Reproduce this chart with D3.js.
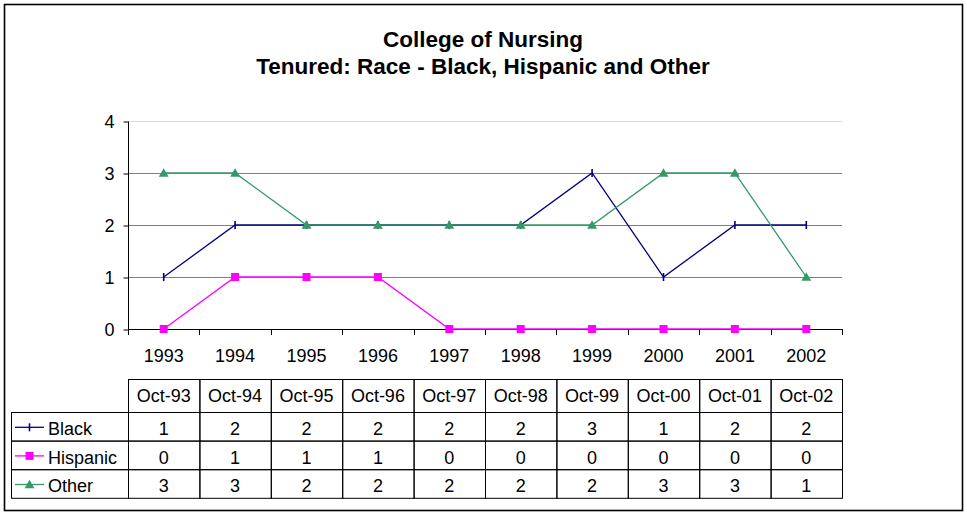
<!DOCTYPE html>
<html>
<head>
<meta charset="utf-8">
<script src="https://cdn.jsdelivr.net/npm/d3@7"></script>
<style>
  body { margin: 0; background: #fff; }
  svg { font-family: "Liberation Sans", Arial, sans-serif; }
</style>
</head>
<body>
<div id="chart"></div>
<script>
const years = ["1993", "1994", "1995", "1996", "1997", "1998", "1999", "2000", "2001", "2002"];
const dates = ["Oct-93", "Oct-94", "Oct-95", "Oct-96", "Oct-97", "Oct-98", "Oct-99", "Oct-00", "Oct-01", "Oct-02"];
const black = [1, 2, 2, 2, 2, 2, 3, 1, 2, 2];
const hispanic = [0, 1, 1, 1, 0, 0, 0, 0, 0, 0];
const other = [3, 3, 2, 2, 2, 2, 2, 3, 3, 1];
const yTicks = [0, 1, 2, 3, 4];

const series = [
  { name: "Black", values: black, color: "#000080", marker: "tick" },
  { name: "Hispanic", values: hispanic, color: "#FF00FF", marker: "square" },
  { name: "Other", values: other, color: "#339966", marker: "triangle" }
];

const width = 967, height = 515;
const plotLeft = 128, plotRight = 842, plotTop = 121, plotBottom = 329;
const fontSize = 18;

const svg = d3.select("#chart").append("svg")
  .attr("width", width)
  .attr("height", height);

// outer frame
svg.append("rect")
  .attr("x", 4.5).attr("y", 4.5)
  .attr("width", 958).attr("height", 506)
  .attr("fill", "#fff")
  .attr("stroke", "#000")
  .attr("stroke-width", 1.6);

// title
svg.append("text")
  .attr("x", 483).attr("y", 47)
  .attr("text-anchor", "middle")
  .attr("font-size", 22.5).attr("font-weight", "bold")
  .text("College of Nursing");
svg.append("text")
  .attr("x", 483).attr("y", 74)
  .attr("text-anchor", "middle")
  .attr("font-size", 22.5).attr("font-weight", "bold")
  .text("Tenured: Race - Black, Hispanic and Other");

let x = d3.scaleBand()
  .domain(years)
  .range([plotLeft, plotRight]);

let y = d3.scaleLinear()
  .domain([0, 4])
  .range([plotBottom, plotTop]);

// gridlines
svg.append("g")
  .selectAll("line")
  .data(yTicks.filter(d => d > 0))
  .join("line")
  .attr("x1", plotLeft).attr("x2", plotRight)
  .attr("y1", d => Math.round(y(d)) + 0.5)
  .attr("y2", d => Math.round(y(d)) + 0.5)
  .attr("stroke", d => d == 4 ? "#dddddd" : "#808080")
  .attr("stroke-width", 1.2);

// y axis
let yAxis = g => g
  .attr("transform", `translate(${plotLeft + 0.5},0.5)`)
  .call(d3.axisLeft(y).tickValues(yTicks).tickSize(5).tickPadding(9).tickFormat(d3.format("d")))
  .call(g => g.select(".domain").attr("d", `M0,${plotTop}V${plotBottom}`))
  .call(g => g.selectAll("text").attr("font-size", fontSize).attr("fill", "#000").attr("font-family", "Liberation Sans, Arial, sans-serif"));

svg.append("g").call(yAxis);

// x axis with ticks between categories
let xAxis = g => g
  .attr("transform", `translate(0,${plotBottom + 0.5})`)
  .call(d3.axisBottom(x).tickSize(0).tickPadding(20))
  .call(g => g.select(".domain").attr("d", `M${plotLeft},0H${plotRight}`))
  .call(g => g.selectAll("text").attr("font-size", fontSize).attr("fill", "#000").attr("font-family", "Liberation Sans, Arial, sans-serif"));

svg.append("g").call(xAxis);

svg.append("g")
  .selectAll("line")
  .data(d3.range(years.length + 1))
  .join("line")
  .attr("x1", i => Math.round(plotLeft + i * x.bandwidth()) + 0.5)
  .attr("x2", i => Math.round(plotLeft + i * x.bandwidth()) + 0.5)
  .attr("y1", plotBottom).attr("y2", plotBottom + 6)
  .attr("stroke", "#000");

let line = d3.line()
  .x((d, i) => x(years[i]) + x.bandwidth() / 2)
  .y(d => y(d));

function drawMarker(g, type, color, cx, cy) {
  if (type == "tick") {
    g.append("line")
      .attr("x1", cx).attr("x2", cx)
      .attr("y1", cy - 4).attr("y2", cy + 4)
      .attr("stroke", color).attr("stroke-width", 1.6);
  } else if (type == "square") {
    g.append("rect")
      .attr("x", cx - 4).attr("y", cy - 4)
      .attr("width", 8).attr("height", 8)
      .attr("fill", color);
  } else {
    g.append("path")
      .attr("d", d3.symbol(d3.symbolTriangle, 42)())
      .attr("transform", `translate(${cx},${cy + 1})`)
      .attr("fill", color);
  }
}

let lines = svg.append("g");
series.forEach(s => {
  lines.append("path")
    .attr("d", line(s.values))
    .attr("fill", "none")
    .attr("stroke", s.color)
    .attr("stroke-width", 1.3);
});
series.forEach(s => {
  s.values.forEach((v, i) => {
    drawMarker(lines, s.marker, s.color, x(years[i]) + x.bandwidth() / 2, y(v));
  });
});

// data table
const headTop = 379, rowH = 28.6, headH = 33, legendLeft = 11;
let table = svg.append("g").attr("font-size", fontSize);

dates.forEach((d, i) => {
  let x0 = x(years[i]);
  table.append("rect")
    .attr("x", x0 + 0.5).attr("y", headTop + 0.5)
    .attr("width", x.bandwidth()).attr("height", headH)
    .attr("fill", "none").attr("stroke", "#000");
  table.append("text")
    .attr("x", x0 + x.bandwidth() / 2)
    .attr("y", headTop + 23)
    .attr("text-anchor", "middle")
    .text(d);
});

series.forEach((s, r) => {
  let y0 = headTop + headH + r * rowH;
  table.append("rect")
    .attr("x", legendLeft + 0.5).attr("y", y0 + 0.5)
    .attr("width", plotLeft - legendLeft).attr("height", rowH)
    .attr("fill", "none").attr("stroke", "#000");
  table.append("line")
    .attr("x1", 15).attr("x2", 44)
    .attr("y1", y0 + rowH / 2 + 1).attr("y2", y0 + rowH / 2 + 1)
    .attr("stroke", s.color).attr("stroke-width", 1.3);
  drawMarker(table, s.marker, s.color, 29.5, y0 + rowH / 2 + 1);
  table.append("text")
    .attr("x", 48).attr("y", y0 + 23)
    .text(s.name);
  s.values.forEach((v, i) => {
    let x0 = x(years[i]);
    table.append("rect")
      .attr("x", x0 + 0.5).attr("y", y0 + 0.5)
      .attr("width", x.bandwidth()).attr("height", rowH)
      .attr("fill", "none").attr("stroke", "#000");
    table.append("text")
      .attr("x", x0 + x.bandwidth() / 2)
      .attr("y", y0 + 23)
      .attr("text-anchor", "middle")
      .text(v);
  });
});
</script>
</body>
</html>
